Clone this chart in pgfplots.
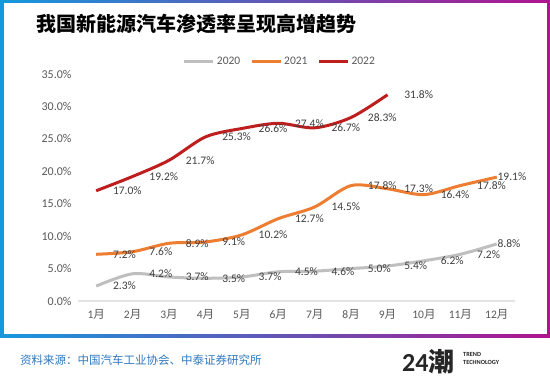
\documentclass[border=0pt]{standalone}
\usepackage{fontspec}
\setmainfont{Carlito}
\newfontfamily\cjk{Noto Sans CJK SC}
\usepackage{pgfplots}
\pgfplotsset{compat=1.18}
\definecolor{cgray}{HTML}{BFBFBF}
\definecolor{corange}{HTML}{ED7D31}
\definecolor{cred}{HTML}{BE1E1E}
\definecolor{tgray}{HTML}{595959}
\definecolor{lgray}{HTML}{404040}
\definecolor{axgray}{HTML}{E3E3E3}
\definecolor{bl}{HTML}{1598DD}
\definecolor{pu}{HTML}{5A4EB6}
\definecolor{mg}{HTML}{B0148E}
\definecolor{srcblue}{HTML}{2F78BE}
\begin{document}
\begin{tikzpicture}
\fill[white] (0pt,0pt) rectangle (550pt,385pt);
\shade[left color=bl, middle color=pu, right color=mg] (0pt,47pt) rectangle (550pt,385pt);
\fill[white] (3.5pt,50.5pt) rectangle (546.5pt,381.5pt);
\node[anchor=west, inner sep=0pt, font=\cjk\bfseries\fontsize{20}{24}\selectfont] at (36pt,361pt) {我国新能源汽车渗透率呈现高增趋势};
\begin{axis}[
  at={(78pt,84pt)}, anchor=south west, scale only axis,
  width=437pt, height=227pt,
  xmin=-0.5, xmax=11.5, ymin=0, ymax=35,
  /pgf/number format/assume math mode=true,
  axis x line*=bottom, axis y line*=left,
  x axis line style={draw=axgray, line width=1.3pt},
  y axis line style={draw=none},
  major tick length=0pt, tick style={draw=none},
  ytick={0,5,...,35},
  yticklabel={\pgfmathprintnumber[fixed,fixed zerofill,precision=1,assume math mode=true]{\tick}\%},
  yticklabel style={font=\fontsize{12}{13}\selectfont, text=tgray, xshift=-3pt},
  xtick={0,...,11},
  xticklabels={1{\cjk 月},2{\cjk 月},3{\cjk 月},4{\cjk 月},5{\cjk 月},6{\cjk 月},7{\cjk 月},8{\cjk 月},9{\cjk 月},10{\cjk 月},11{\cjk 月},12{\cjk 月}},
  xticklabel style={font=\fontsize{11.5}{13}\selectfont, text=tgray, yshift=-5pt},
  clip=false,
  legend style={at={(0.462,1.053)}, anchor=center, draw=none, fill=none,
    font=\fontsize{11.5}{13}\selectfont, text=tgray, legend columns=3,
    /tikz/every even column/.append style={column sep=8pt}},
  legend image code/.code={\draw[#1] (0pt,0pt) -- (29pt,0pt);},
  nodes near coords={\pgfmathprintnumber[fixed,fixed zerofill,precision=1,assume math mode=true]{\pgfplotspointmeta}\%},
  visualization depends on={x \as \myx},
  every node near coord/.append style={font=\fontsize{11.5}{13}\selectfont, text=lgray, anchor=west, xshift={\myx>10.5 ? -4 : 12}},
]
\addplot[color=cgray, line width=3pt, smooth, tension=0.5] coordinates {
(0,2.3) (1,4.2) (2,3.7) (3,3.5) (4,3.7) (5,4.5) (6,4.6) (7,5.0) (8,5.4) (9,6.2) (10,7.2) (11,8.8)};
\addlegendentry{2020}
\addplot[color=corange, line width=3pt, smooth, tension=0.5] coordinates {
(0,7.2) (1,7.6) (2,8.9) (3,9.1) (4,10.2) (5,12.7) (6,14.5) (7,17.8) (8,17.3) (9,16.4) (10,17.8) (11,19.1)};
\addlegendentry{2021}
\addplot[color=cred, line width=3pt, smooth, tension=0.5] coordinates {
(0,17.0) (1,19.2) (2,21.7) (3,25.3) (4,26.6) (5,27.4) (6,26.7) (7,28.3) (8,31.8)};
\addlegendentry{2022}
\end{axis}
\node[anchor=west, inner sep=0pt, font=\cjk\fontsize{11.5}{14}\selectfont, text=srcblue] at (20pt,25pt) {资料来源：中国汽车工业协会、中泰证券研究所};
\node[anchor=west, inner sep=0pt, font=\bfseries\fontsize{26}{27}\selectfont, text=black!85] at (402pt,23pt) {24{\cjk\bfseries 潮}};
\node[anchor=north west, inner sep=0pt, align=left, font=\bfseries\fontsize{6.3}{7.5}\selectfont, text=black!85] at (463pt,32.5pt) {TREND\\TECHNOLOGY};
\pgfresetboundingbox
\useasboundingbox (0pt,0pt) rectangle (550pt,385pt);
\end{tikzpicture}
\end{document}
